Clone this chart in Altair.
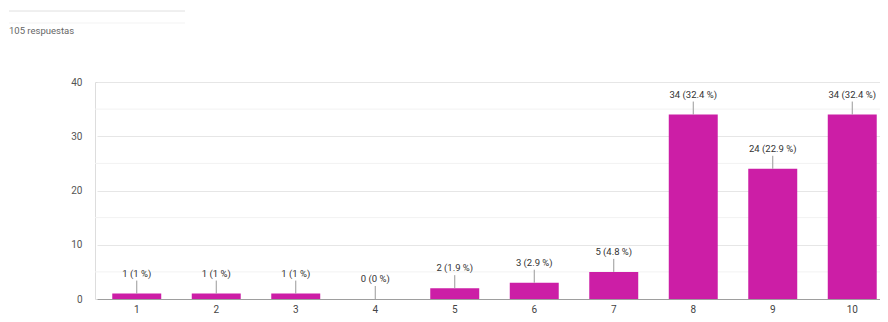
import altair as alt
import pandas as pd

categories = ["1", "2", "3", "4", "5", "6", "7", "8", "9", "10"]
counts = [1, 1, 1, 0, 2, 3, 5, 34, 24, 34]
percents = ["1", "1", "1", "0", "1.9", "2.9", "4.8", "32.4", "22.9", "32.4"]
y_ticks = [0, 10, 20, 30, 40]
minor_ticks = [5, 15, 25, 35]
header_text = "105 respuestas"

FONT = "Roboto"
BAR = "#cc1ea6"

df = pd.DataFrame({
    "cat": categories,
    "count": counts,
    "label": [f"{c} ({p} %)" for c, p in zip(counts, percents)],
})
minor_df = pd.DataFrame({"v": minor_ticks})
header_df = pd.DataFrame({"t": [header_text]})

xscale = alt.Scale(domain=categories, range=[2, 797], paddingInner=0.384, paddingOuter=0.192)
yscale = alt.Scale(domain=[0, 40], nice=False)

x_enc = alt.X("cat:N", sort=categories, scale=xscale, title=None,
              axis=alt.Axis(labelAngle=0, ticks=False, domainColor="#9e9e9e", domainWidth=1,
                            labelColor="#444", labelFontSize=10, labelFont=FONT, labelPadding=5,
                            grid=False))

minor = alt.Chart(minor_df).mark_rule(color="#f2f2f2", strokeWidth=1).encode(
    y=alt.Y("v:Q", scale=yscale)
)

bars = alt.Chart(df).mark_bar(color=BAR).encode(
    x=x_enc,
    y=alt.Y("count:Q", scale=yscale, title=None,
            axis=alt.Axis(values=y_ticks, ticks=False, domain=False, gridColor="#e6e6e6",
                          labelColor="#555", labelFontSize=10, labelFont=FONT, labelPadding=13)),
)

connectors = alt.Chart(df).mark_rule(color="#999", strokeWidth=1, y2Offset=-13).encode(
    x=alt.X("cat:N", sort=categories, scale=xscale),
    y=alt.Y("count:Q", scale=yscale),
    y2="count:Q",
)

labels = alt.Chart(df).mark_text(dy=-20, baseline="middle", fontSize=9.5, font=FONT, color="#333").encode(
    x=alt.X("cat:N", sort=categories, scale=xscale),
    y=alt.Y("count:Q", scale=yscale),
    text="label:N",
)

header = alt.Chart(header_df).mark_text(align="left", baseline="middle", fontSize=9.5, font=FONT,
                                         color="#666").encode(
    x=alt.value(-86), y=alt.value(-51), text="t:N"
)
header_line = alt.Chart(header_df).mark_rule(color="#e0e0e0", strokeWidth=1).encode(
    x=alt.value(-86), x2=alt.value(90), y=alt.value(-71)
)
header_line2 = alt.Chart(header_df).mark_rule(color="#f3f3f3", strokeWidth=1).encode(
    x=alt.value(-86), x2=alt.value(90), y=alt.value(-59)
)

chart = alt.layer(minor, bars, connectors, labels, header, header_line, header_line2).properties(
    width=785, height=217,
    autosize=alt.AutoSizeParams(type="none"),
    padding={"left": 87, "top": 74, "right": 0, "bottom": 15},
).configure_view(stroke=None).configure(background="white")

chart.save("out.html", embed_options={"renderer": "svg", "actions": False})
